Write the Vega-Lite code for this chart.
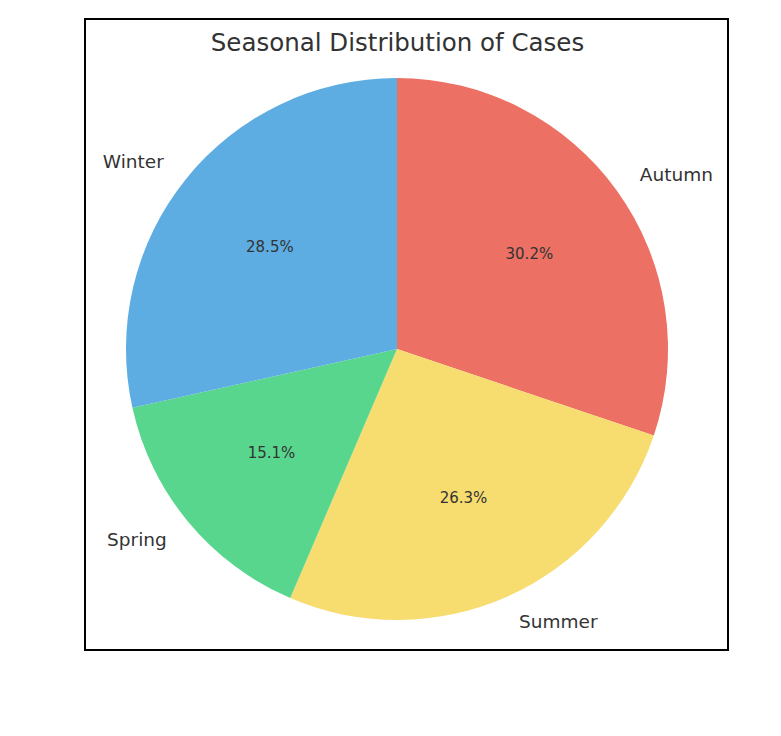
{
  "$schema": "https://vega.github.io/schema/vega-lite/v6.json",
  "width": 643,
  "height": 631,
  "autosize": {"type": "none"},
  "padding": {"left": 85, "top": 19, "right": 53, "bottom": 86},
  "background": "white",
  "view": {"stroke": "black", "strokeWidth": 2},
  "title": {
    "text": "Seasonal Distribution of Cases",
    "font": "DejaVu Sans",
    "fontSize": 24.5,
    "fontWeight": "normal",
    "color": "#333333",
    "anchor": "middle",
    "offset": -37,
    "dx": -9
  },
  "data": {
    "values": [
      {"season": "Autumn", "pct": 30.2, "ord": 1},
      {"season": "Summer", "pct": 26.3, "ord": 2},
      {"season": "Spring", "pct": 15.1, "ord": 3},
      {"season": "Winter", "pct": 28.5, "ord": 4}
    ]
  },
  "encoding": {
    "theta": {"field": "pct", "type": "quantitative", "stack": true},
    "order": {"field": "ord", "type": "quantitative"},
    "x": {"datum": 0, "type": "quantitative", "scale": {"domain": [-1, 1.061]}, "axis": null},
    "y": {"datum": 0, "type": "quantitative", "scale": {"domain": [-0.954, 1.046]}, "axis": null}
  },
  "layer": [
    {
      "mark": {"type": "arc", "radius": 271},
      "encoding": {
        "color": {
          "field": "season",
          "type": "nominal",
          "scale": {
            "domain": ["Winter", "Spring", "Summer", "Autumn"],
            "range": ["#5DADE2", "#58D68D", "#F7DC6F", "#EC7063"]
          },
          "legend": null
        }
      }
    },
    {
      "mark": {
        "type": "text",
        "radius": 163,
        "font": "DejaVu Sans",
        "fontSize": 15,
        "color": "#333333",
        "baseline": "middle",
        "text": {"expr": "format(datum.pct, '.1f') + '%'"}
      }
    },
    {
      "mark": {
        "type": "text",
        "radius": 299,
        "font": "DejaVu Sans",
        "fontSize": 18.5,
        "color": "#333333",
        "baseline": "middle",
        "align": {"expr": "datum.season == 'Autumn' || datum.season == 'Summer' ? 'left' : 'right'"}
      },
      "encoding": {
        "text": {"field": "season", "type": "nominal"}
      }
    }
  ]
}
